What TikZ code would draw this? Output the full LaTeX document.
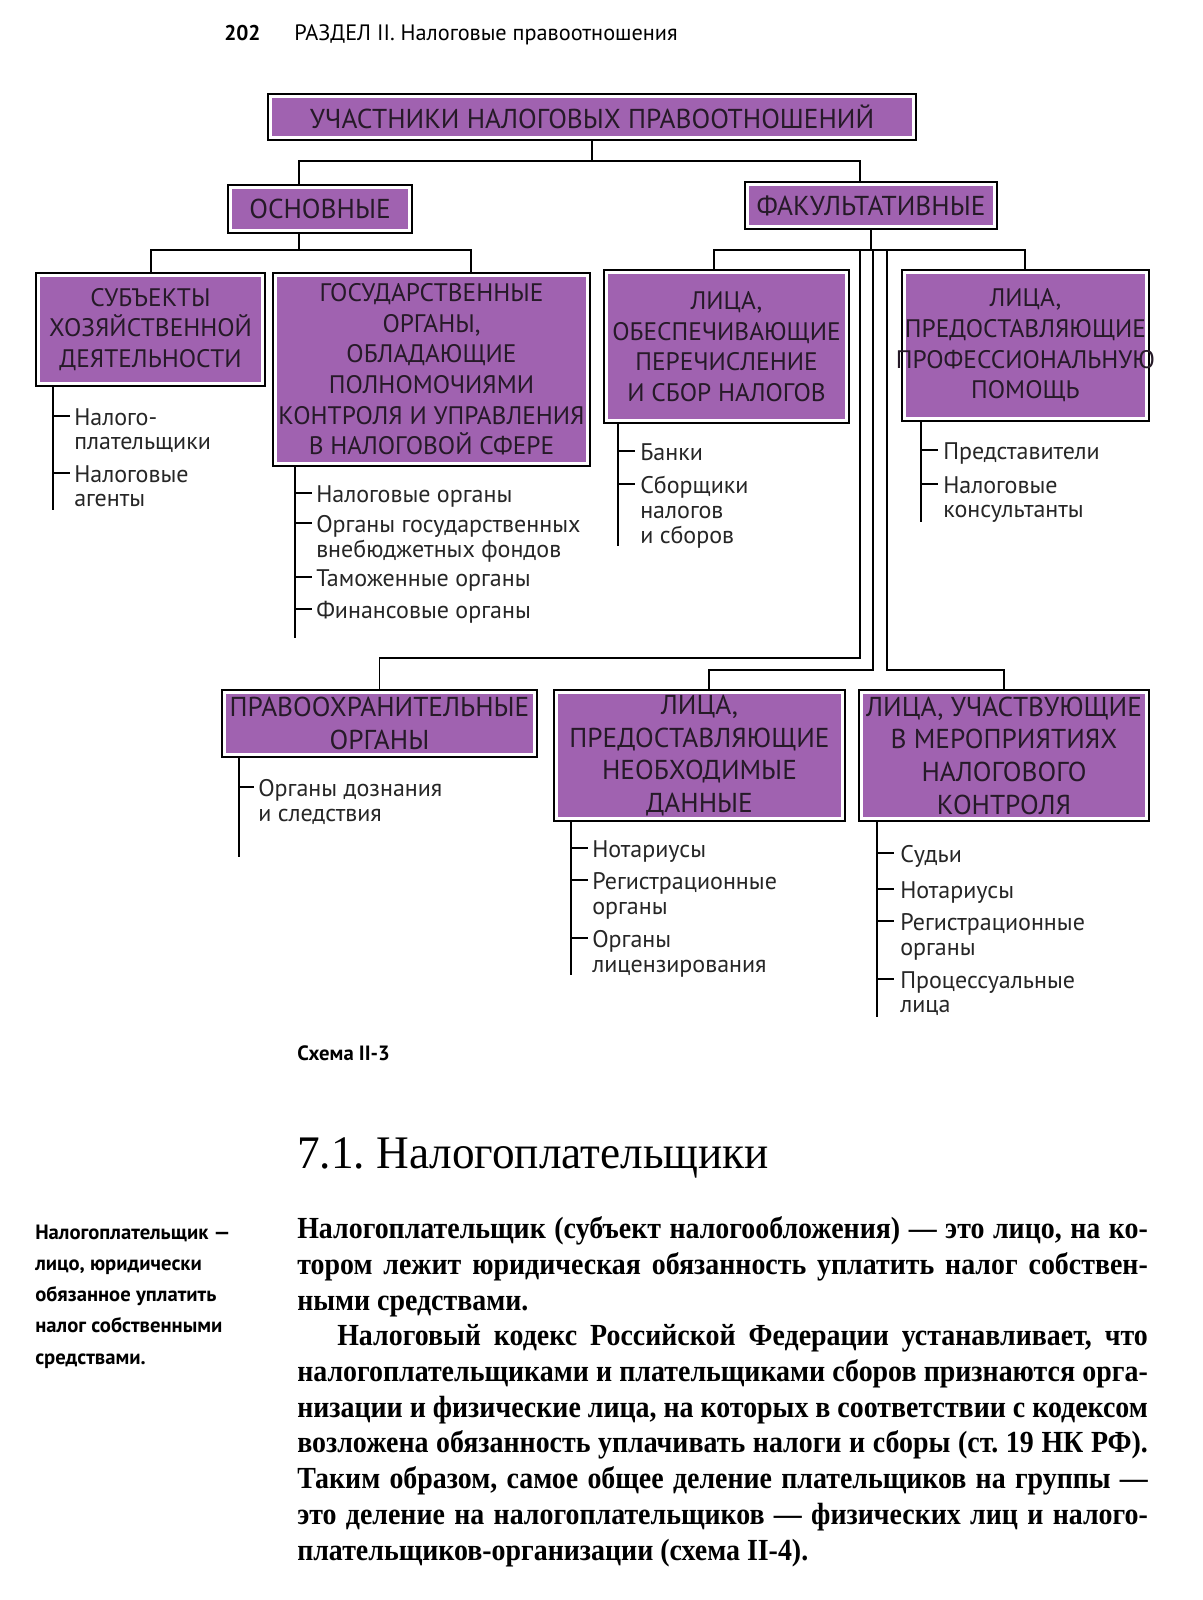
\documentclass[tikz,border=0pt]{standalone}
\usepackage{fontspec}
\usepackage{tikz}
\usetikzlibrary{positioning, calc}
\setmainfont{Liberation Serif}
\newfontfamily\diafont{PT Sans}
\newfontfamily\bodyserif{Liberation Serif}[FakeStretch=0.91]
\newfontfamily\headserif{Liberation Serif}[FakeStretch=0.97]
\definecolor{Marker}{RGB}{160,98,176}
\definecolor{Ink}{RGB}{38,26,40}
\frenchspacing
\newcommand{\fitline}[2]{{\spaceskip=0.25em plus 0.5em minus 0.12em\relax\makebox[#1][s]{#2}}}

\begin{document}
\begin{tikzpicture}[
    x=0.75pt, y=-0.75pt,
    box/.style={rectangle, draw=black, line width=1.3pt, inner sep=0pt, align=center,
                font=\diafont\fontsize{19}{23}\selectfont, text=Ink,
                path picture={\fill[Marker] ([shift={(3pt,-3pt)}]path picture bounding box.north west)
                    rectangle ([shift={(-3pt,3pt)}]path picture bounding box.south east);}},
    big/.style={font=\diafont\fontsize{20.5}{24.5}\selectfont},
    link/.style={line width=1pt, draw=black},
    item/.style={anchor=north west, inner sep=0pt, align=left,
                 font=\diafont\fontsize{18}{18.6}\selectfont, text=black!85},
    body/.style={anchor=base west, inner sep=0pt, font=\bodyserif\bfseries\fontsize{23}{27}\selectfont}
]
\fill[white] (0,0) rectangle (1203,1600);

% page header
\node[anchor=base west, inner sep=0pt, font=\diafont\bfseries\fontsize{16}{19}\selectfont] (pnum) at (224,40) {202};
\node[anchor=base west, inner sep=0pt, font=\diafont\fontsize{16.7}{19}\selectfont] (head) at (294,40) {РАЗДЕЛ II. Налоговые правоотношения};

% boxes
\node[box, big, minimum width=486pt, minimum height=34.5pt] (top) at (592,117) {УЧАСТНИКИ НАЛОГОВЫХ ПРАВООТНОШЕНИЙ};
\node[box, big, minimum width=138pt, minimum height=36pt] (osn) at (320,209) {ОСНОВНЫЕ};
\node[box, big, minimum width=189pt, minimum height=35pt] (fak) at (871,205.5) {ФАКУЛЬТАТИВНЫЕ};

\node[box, minimum width=172pt, minimum height=85pt] (sub) at (150.5,329.5)
    {СУБЪЕКТЫ\\ХОЗЯЙСТВЕННОЙ\\ДЕЯТЕЛЬНОСТИ};
\node[box, minimum width=238pt, minimum height=145pt] (gos) at (431.5,369.5)
    {ГОСУДАРСТВЕННЫЕ\\ОРГАНЫ,\\ОБЛАДАЮЩИЕ\\ПОЛНОМОЧИЯМИ\\КОНТРОЛЯ И УПРАВЛЕНИЯ\\В НАЛОГОВОЙ СФЕРЕ};
\node[box, minimum width=184pt, minimum height=115pt] (obe) at (726.5,346.5)
    {ЛИЦА,\\ОБЕСПЕЧИВАЮЩИЕ\\ПЕРЕЧИСЛЕНИЕ\\И СБОР НАЛОГОВ};
\node[box, minimum width=185pt, minimum height=113pt] (pro) at (1025.5,345.5)
    {ЛИЦА,\\ПРЕДОСТАВЛЯЮЩИЕ\\\makebox[185pt]{ПРОФЕССИОНАЛЬНУЮ}\\ПОМОЩЬ};

\node[box, big, minimum width=236pt, minimum height=50pt] (pra) at (379.5,723.5)
    {ПРАВООХРАНИТЕЛЬНЫЕ\\ОРГАНЫ};
\node[box, big, minimum width=218pt, minimum height=98pt] (neo) at (699.5,755.5)
    {ЛИЦА,\\ПРЕДОСТАВЛЯЮЩИЕ\\НЕОБХОДИМЫЕ\\ДАННЫЕ};
\node[box, big, minimum width=217.5pt, minimum height=98pt] (uch) at (1004,755.5)
    {ЛИЦА, УЧАСТВУЮЩИЕ\\В МЕРОПРИЯТИЯХ\\НАЛОГОВОГО\\КОНТРОЛЯ};

% connectors between boxes
\coordinate (j1) at (299,161);
\coordinate (j2) at (860,161);
\draw[link] (top.south) |- (j1) -- (j1 |- osn.north);
\draw[link] (top.south) |- (j2) -- (j2 |- fak.north);

\coordinate (j3) at (151,250);
\coordinate (j4) at (471,250);
\draw[link] (j1 |- osn.south) |- (j3) -- (j3 |- sub.north);
\draw[link] (j1 |- osn.south) |- (j4) -- (j4 |- gos.north);

\coordinate (j5) at (714,250);
\coordinate (j6) at (1025,250);
\draw[link] (fak.south) |- (j5) -- (j5 |- obe.north);
\draw[link] (fak.south) |- (j6) -- (j6 |- pro.north);

\coordinate (k1) at (860,658);
\coordinate (k2) at (873,670);
\coordinate (k3) at (887,670);
\draw[link] (k1 |- j5) -- (k1) -| (pra.north);
\draw[link] (k2 |- j5) -- (k2) -| ([xshift=7pt]neo.north);
\draw[link] (k3 |- j5) -- (k3) -| (uch.north);

% lists under the boxes
\coordinate (s1) at (53,510);
\draw[link] (sub.south -| s1) -- (s1);
\foreach \k/\c/\txt in {1/416/{Налого-\\плательщики}, 2/473/{Налоговые\\агенты}} {
  \node[item] (sub\k) at (74,\c-8) {\txt};
  \draw[link] (s1 |- sub\k.north) ++(0,8) -- ++(17,0);
}

\coordinate (s2) at (295,638);
\draw[link] (gos.south -| s2) -- (s2);
\foreach \k/\c/\txt in {1/493/{Налоговые органы}, 2/523/{Органы государственных\\внебюджетных фондов},
                        3/577/{Таможенные органы}, 4/609/{Финансовые органы}} {
  \node[item] (gos\k) at (316,\c-8) {\txt};
  \draw[link] (s2 |- gos\k.north) ++(0,8) -- ++(17,0);
}

\coordinate (s3) at (618,546);
\draw[link] (obe.south -| s3) -- (s3);
\foreach \k/\c/\txt in {1/451/{Банки}, 2/484/{Сборщики\\налогов\\и сборов}} {
  \node[item] (obe\k) at (640,\c-8) {\txt};
  \draw[link] (s3 |- obe\k.north) ++(0,8) -- ++(17,0);
}

\coordinate (s4) at (921,522);
\draw[link] (pro.south -| s4) -- (s4);
\foreach \k/\c/\txt in {1/450/{Представители}, 2/484/{Налоговые\\консультанты}} {
  \node[item] (pro\k) at (943,\c-8) {\txt};
  \draw[link] (s4 |- pro\k.north) ++(0,8) -- ++(17,0);
}

\coordinate (s5) at (239,857);
\draw[link] (pra.south -| s5) -- (s5);
\foreach \k/\c/\txt in {1/787/{Органы дознания\\и следствия}} {
  \node[item] (pra\k) at (258,\c-8) {\txt};
  \draw[link] (s5 |- pra\k.north) ++(0,8) -- ++(15,0);
}

\coordinate (s6) at (571,975);
\draw[link] (neo.south -| s6) -- (s6);
\foreach \k/\c/\txt in {1/848/{Нотариусы}, 2/880/{Регистрационные\\органы}, 3/938/{Органы\\лицензирования}} {
  \node[item] (neo\k) at (592,\c-8) {\txt};
  \draw[link] (s6 |- neo\k.north) ++(0,8) -- ++(17,0);
}

\coordinate (s7) at (877,1017);
\draw[link] (uch.south -| s7) -- (s7);
\foreach \k/\c/\txt in {1/853/{Судьи}, 2/889/{Нотариусы}, 3/921/{Регистрационные\\органы},
                        4/979/{Процессуальные\\лица}} {
  \node[item] (uch\k) at (900,\c-8) {\txt};
  \draw[link] (s7 |- uch\k.north) ++(0,8) -- ++(17,0);
}

% caption, heading and text
\node[anchor=base west, inner sep=0pt, font=\diafont\bfseries\fontsize{15.5}{18}\selectfont] (cap) at (297,1060) {Схема II-3};
\node[anchor=base west, inner sep=0pt, font=\headserif\fontsize{35}{40}\selectfont] (h71) at (297,1168) {7.1. Налогоплательщики};

\node[anchor=north west, inner sep=0pt, align=left, font=\diafont\bfseries\fontsize{15.5}{23.3}\selectfont] (note) at (35,1225)
    {Налогоплательщик —\\лицо, юридически\\обязанное уплатить\\налог собственными\\средствами.};

\node[body] (p1) at (297,1238) {\fitline{638pt}{Налогоплательщик (субъект налогообложения) — это лицо, на ко-}};
\node[body] (p2) at (297,1274) {\fitline{638pt}{тором лежит юридическая обязанность уплатить налог собствен-}};
\node[body] (p3) at (297,1310) {ными средствами.};
\node[body] (p4) at (337,1345) {\fitline{608pt}{Налоговый кодекс Российской Федерации устанавливает, что}};
\node[body] (p5) at (297,1381) {\fitline{638pt}{налогоплательщиками и плательщиками сборов признаются орга-}};
\node[body] (p6) at (297,1417) {\fitline{638pt}{низации и физические лица, на которых в соответствии с кодексом}};
\node[body] (p7) at (297,1452) {\fitline{638pt}{возложена обязанность уплачивать налоги и сборы (ст.~19 НК РФ).}};
\node[body] (p8) at (297,1488) {\fitline{638pt}{Таким образом, самое общее деление плательщиков на группы —}};
\node[body] (p9) at (297,1524) {\fitline{638pt}{это деление на налогоплательщиков — физических лиц и налого-}};
\node[body] (p10) at (297,1560) {плательщиков-организации (схема II-4).};
\end{tikzpicture}
\end{document}
